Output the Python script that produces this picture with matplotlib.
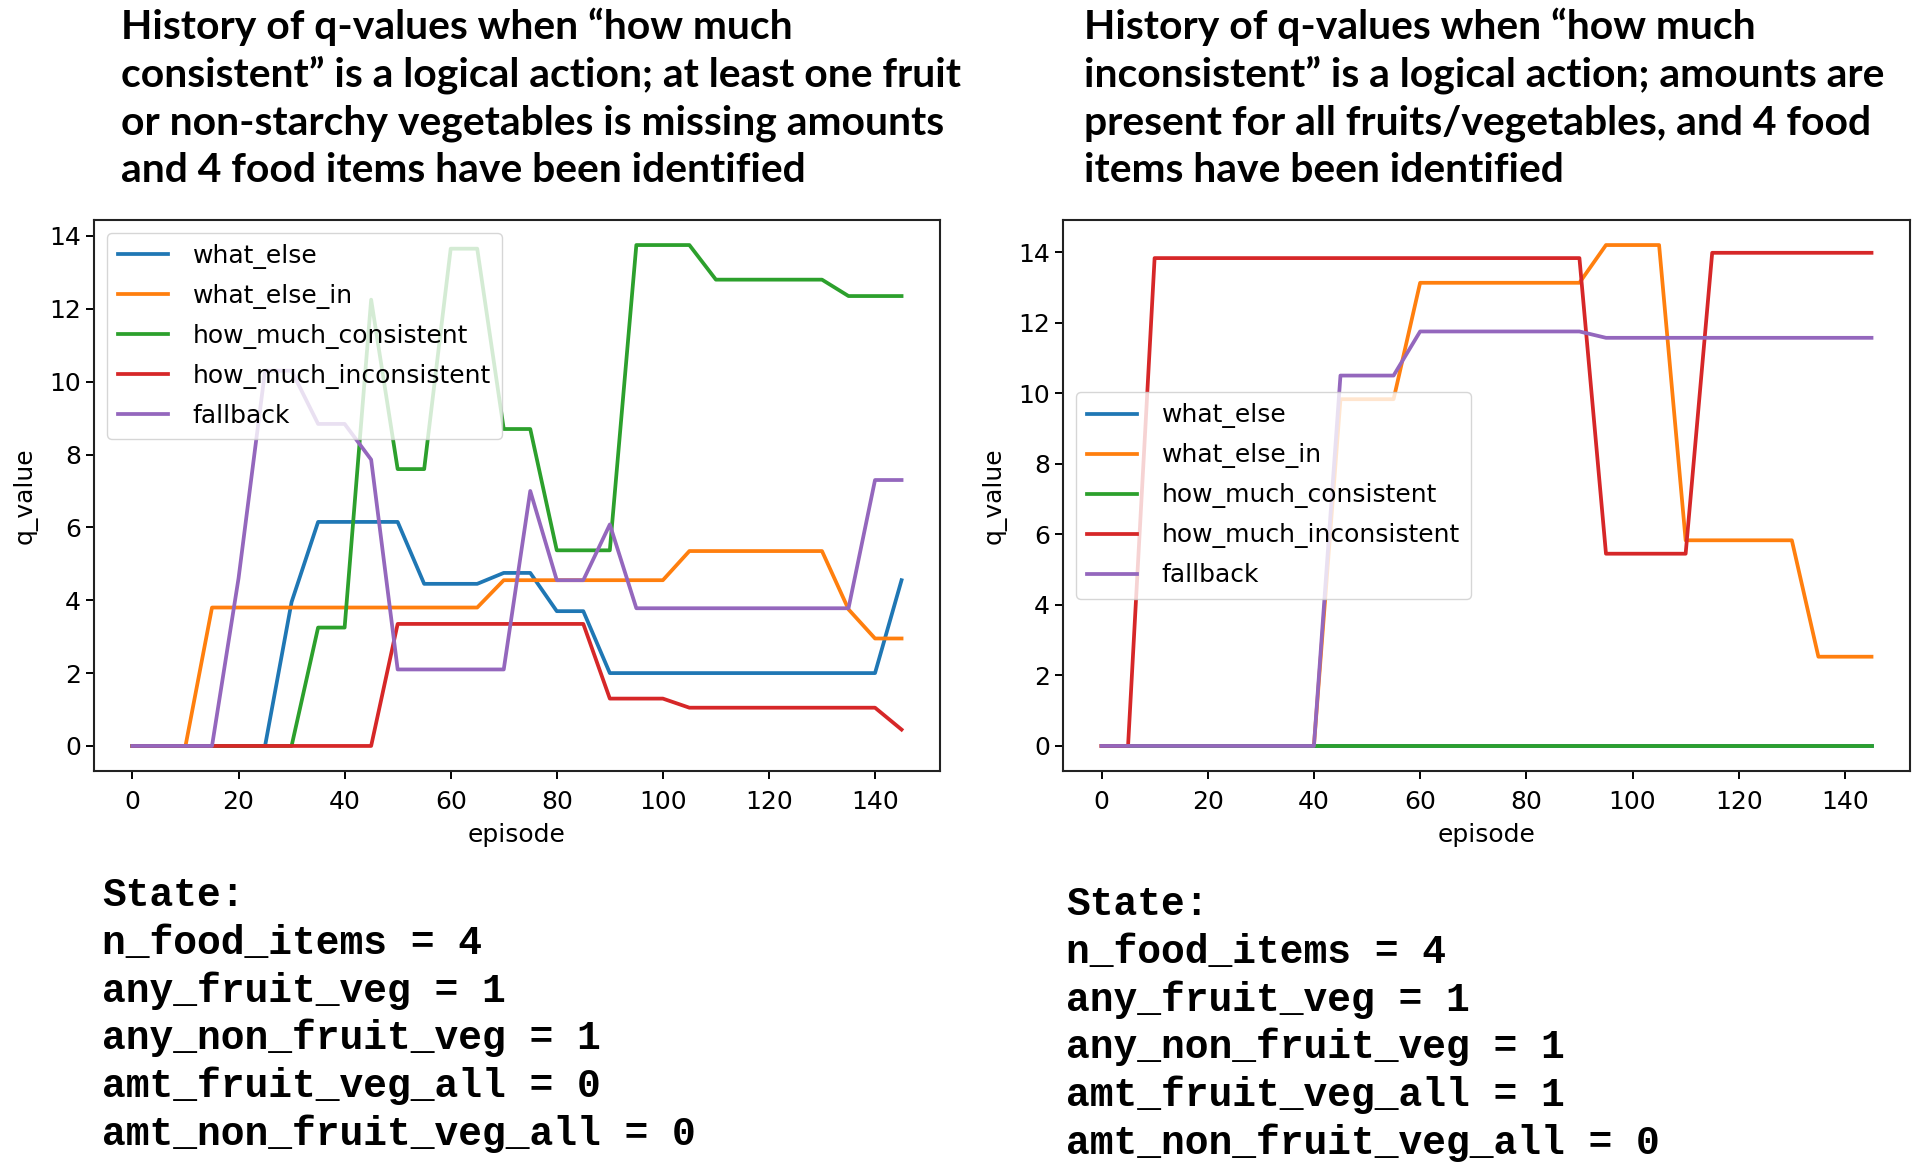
import matplotlib
matplotlib.use('Agg')
import matplotlib.pyplot as plt

W, H = 1920, 1170

episodes = list(range(0, 150, 5))
series_names = ["what_else", "what_else_in", "how_much_consistent",
                "how_much_inconsistent", "fallback"]
colors = ["#1f77b4", "#ff7f0e", "#2ca02c", "#d62728", "#9467bd"]

# Left chart
L_what_else = [0, 0, 0, 0, 0, 0, 3.95, 6.15, 6.15, 6.15, 6.15, 4.45, 4.45, 4.45, 4.75,
               4.75, 3.7, 3.7, 2.0, 2.0, 2.0, 2.0, 2.0, 2.0, 2.0, 2.0, 2.0, 2.0, 2.0, 4.55]
L_what_else_in = [0, 0, 0, 3.8, 3.8, 3.8, 3.8, 3.8, 3.8, 3.8, 3.8, 3.8, 3.8, 3.8, 4.55,
                  4.55, 4.55, 4.55, 4.55, 4.55, 4.55, 5.35, 5.35, 5.35, 5.35, 5.35, 5.35, 3.75, 2.95, 2.95]
L_how_much_consistent = [0, 0, 0, 0, 0, 0, 0, 3.25, 3.25, 12.25, 7.6, 7.6, 13.65, 13.65, 8.7,
                         8.7, 5.37, 5.37, 5.37, 13.75, 13.75, 13.75, 12.8, 12.8, 12.8, 12.8, 12.8, 12.35, 12.35, 12.35]
L_how_much_inconsistent = [0, 0, 0, 0, 0, 0, 0, 0, 0, 0, 3.35, 3.35, 3.35, 3.35, 3.35,
                           3.35, 3.35, 3.35, 1.3, 1.3, 1.3, 1.05, 1.05, 1.05, 1.05, 1.05, 1.05, 1.05, 1.05, 0.45]
L_fallback = [0, 0, 0, 0, 4.6, 10.3, 10.3, 8.84, 8.84, 7.86, 2.1, 2.1, 2.1, 2.1, 2.1,
              7.0, 4.55, 4.55, 6.08, 3.78, 3.78, 3.78, 3.78, 3.78, 3.78, 3.78, 3.78, 3.78, 7.3, 7.3]

# Right chart
R_what_else = [0] * 30
R_what_else_in = [0, 0, 0, 0, 0, 0, 0, 0, 0, 9.83, 9.83, 9.83, 13.13, 13.13, 13.13,
                  13.13, 13.13, 13.13, 13.13, 14.2, 14.2, 14.2, 5.83, 5.83, 5.83, 5.83, 5.83, 2.53, 2.53, 2.53]
R_how_much_consistent = [0] * 30
R_how_much_inconsistent = [0, 0, 13.83, 13.83, 13.83, 13.83, 13.83, 13.83, 13.83, 13.83, 13.83,
                           13.83, 13.83, 13.83, 13.83, 13.83, 13.83, 13.83, 13.83, 5.45, 5.45, 5.45, 5.45,
                           13.98, 13.98, 13.98, 13.98, 13.98, 13.98, 13.98]
R_fallback = [0, 0, 0, 0, 0, 0, 0, 0, 0, 10.5, 10.5, 10.5, 11.75, 11.75, 11.75, 11.75, 11.75,
              11.75, 11.75, 11.57, 11.57, 11.57, 11.57, 11.57, 11.57, 11.57, 11.57, 11.57, 11.57, 11.57]

left_title = ["History of q-values when \u201chow much",
              "consistent\u201d is a logical action; at least one fruit",
              "or non-starchy vegetables is missing amounts",
              "and 4 food items have been identified"]
right_title = ["History of q-values when \u201chow much",
               "inconsistent\u201d is a logical action; amounts are",
               "present for all fruits/vegetables, and 4 food",
               "items have been identified"]
left_state = ["State:", "n_food_items = 4", "any_fruit_veg = 1", "any_non_fruit_veg = 1",
              "amt_fruit_veg_all = 0", "amt_non_fruit_veg_all = 0"]
right_state = ["State:", "n_food_items = 4", "any_fruit_veg = 1", "any_non_fruit_veg = 1",
               "amt_fruit_veg_all = 1", "amt_non_fruit_veg_all = 0"]

fig = plt.figure(figsize=(W / 100, H / 100), dpi=100)

def px_axes(x0, y0, x1, y1):
    return fig.add_axes([x0 / W, 1 - y1 / H, (x1 - x0) / W, (y1 - y0) / H])

FS = 18
LW = 2.7

def draw(ax, data, legend_loc):
    for name, vals, c in zip(series_names, data, colors):
        ax.plot(episodes, vals, color=c, lw=LW, label=name)
    ax.set_xticks([0, 20, 40, 60, 80, 100, 120, 140])
    ax.set_yticks([0, 2, 4, 6, 8, 10, 12, 14])
    ax.tick_params(labelsize=FS, length=6, width=1.4)
    ax.tick_params(axis='x', pad=8)
    for s in ax.spines.values():
        s.set_linewidth(1.5)
        s.set_color('#222222')
    ax.set_xlabel("episode", fontsize=FS, labelpad=6)
    ax.set_ylabel("q_value", fontsize=FS, labelpad=8)
    ax.legend(loc=legend_loc, fontsize=FS, handlelength=2.0, borderpad=0.45,
              labelspacing=0.6, handletextpad=1.0)

axL = px_axes(94, 220, 940, 771)
draw(axL, [L_what_else, L_what_else_in, L_how_much_consistent,
           L_how_much_inconsistent, L_fallback], "upper left")
axR = px_axes(1063, 220, 1910, 771)
draw(axR, [R_what_else, R_what_else_in, R_how_much_consistent,
           R_how_much_inconsistent, R_fallback], "center left")

renderer = fig.canvas.get_renderer()

def lines(txts, x, y0, step, **kw):
    out = []
    for i, t in enumerate(txts):
        out.append(fig.text(x / W, 1 - (y0 + i * step) / H, t, va='baseline', ha='left', **kw))
    return out

title_font = ['Lato', 'DejaVu Sans']
tl = lines(left_title, 121, 39, 47.7, fontsize=27, fontweight='bold', family=title_font)
tr = lines(right_title, 1084, 39, 47.7, fontsize=27, fontweight='bold', family=title_font)
# fit title width: left line 2 spans ~841 px in the reference
w = tl[1].get_window_extent(renderer).width
fs_title = 27 * 841.0 / w
for t in tl + tr:
    t.set_fontsize(fs_title)

mono = ['Liberation Mono', 'DejaVu Sans Mono']
lines(left_state, 102, 906, 47.8, fontsize=28.5, family=mono, fontweight='bold')
lines(right_state, 1066, 915, 47.8, fontsize=28.5, family=mono, fontweight='bold')

fig.savefig("out.png", dpi=100)
